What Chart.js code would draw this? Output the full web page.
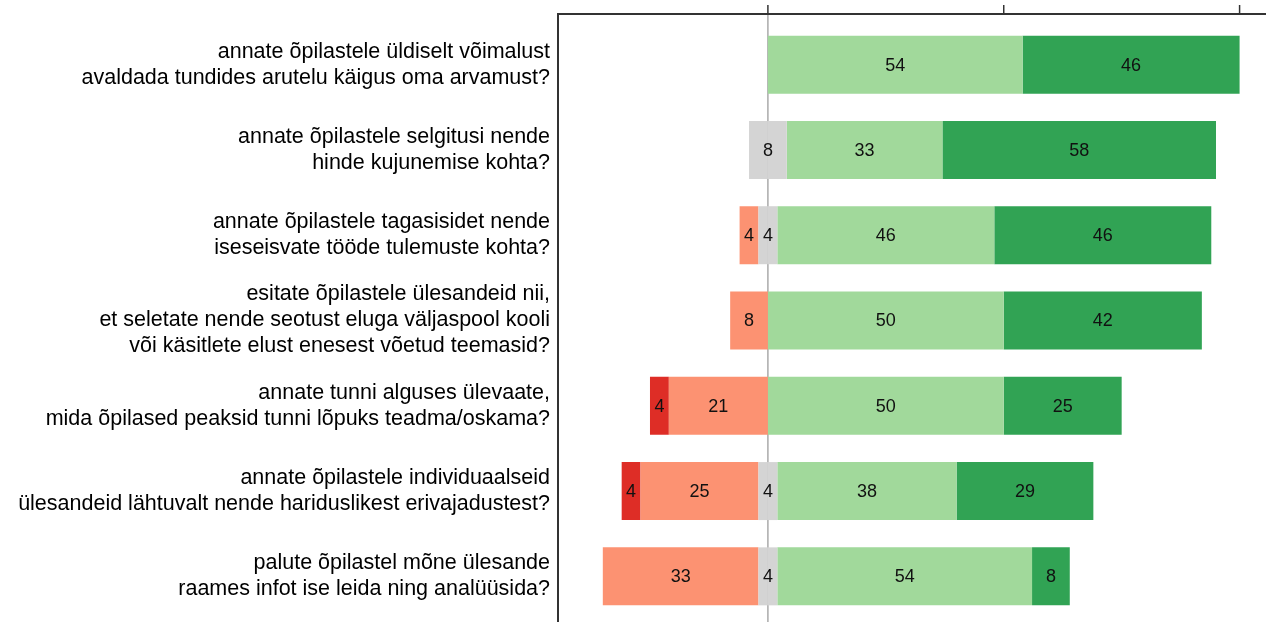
<!DOCTYPE html>
<html>
<head>
<meta charset="utf-8">
<script src="https://cdn.jsdelivr.net/npm/chart.js@4/dist/chart.umd.min.js"></script>
<style>
    html, body { margin: 0; padding: 0; background: #fff; }
    #wrap { width: 1266px; height: 622px; position: relative; }
</style>
</head>
<body>
<div id="wrap"><canvas id="likertChart"></canvas></div>
<script>
// Survey items (multi-line labels)
const questions = [
    ["annate õpilastele üldiselt võimalust", "avaldada tundides arutelu käigus oma arvamust?"],
    ["annate õpilastele selgitusi nende", "hinde kujunemise kohta?"],
    ["annate õpilastele tagasisidet nende", "iseseisvate tööde tulemuste kohta?"],
    ["esitate õpilastele ülesandeid nii,", "et seletate nende seotust eluga väljaspool kooli", "või käsitlete elust enesest võetud teemasid?"],
    ["annate tunni alguses ülevaate,", "mida õpilased peaksid tunni lõpuks teadma/oskama?"],
    ["annate õpilastele individuaalseid", "ülesandeid lähtuvalt nende hariduslikest erivajadustest?"],
    ["palute õpilastel mõne ülesande", "raames infot ise leida ning analüüsida?"]
];

// Percentages per answer level
const stronglyDisagree = [0, 0, 0, 0, 4, 4, 0];
const disagree = [0, 0, 4, 8, 21, 25, 33];
const neutral = [0, 8, 4, 0, 0, 4, 4];
const agree = [54, 33, 46, 50, 50, 38, 54];
const stronglyAgree = [46, 58, 46, 42, 25, 29, 8];

// Top axis ticks
const tickValues = [0, 50, 100];

const colors = {
    stronglyDisagree: "#de2d26",
    disagree: "#fc9272",
    neutral: "#d4d4d4",
    agree: "#a1d99b",
    stronglyAgree: "#31a354"
};

// datasets: neutral split in half around zero, negatives stacked outward
const datasets = [
    { key: "neutralL", values: neutral.map(v => -v / 2), color: colors.neutral, text: null },
    { key: "disagree", values: disagree.map(v => -v), color: colors.disagree, text: disagree },
    { key: "stronglyDisagree", values: stronglyDisagree.map(v => -v), color: colors.stronglyDisagree, text: stronglyDisagree },
    { key: "neutralR", values: neutral.map(v => v / 2), color: colors.neutral, text: null },
    { key: "agree", values: agree, color: colors.agree, text: agree },
    { key: "stronglyAgree", values: stronglyAgree, color: colors.stronglyAgree, text: stronglyAgree }
].map(d => ({
    label: d.key,
    data: d.values,
    backgroundColor: d.color,
    borderWidth: 0,
    stack: "s",
    categoryPercentage: 1,
    barPercentage: 0.68,
    valueText: d.text
}));

// Frame, zero line, ticks and value labels
const decorPlugin = {
    id: "decor",
    beforeDatasetsDraw(chart) {
        const { ctx, chartArea, scales } = chart;
        const x0 = scales.x.getPixelForValue(0);
        ctx.save();
        ctx.strokeStyle = "#aaaaaa";
        ctx.lineWidth = 1.5;
        ctx.beginPath();
        ctx.moveTo(x0, chartArea.top - 8);
        ctx.lineTo(x0, chart.height);
        ctx.stroke();
        ctx.restore();
    },
    afterDatasetsDraw(chart) {
        const { ctx, chartArea, scales } = chart;
        const frameY = chartArea.top - 8;
        ctx.save();
        ctx.strokeStyle = "#333";
        ctx.lineWidth = 2;
        ctx.beginPath();
        ctx.moveTo(chartArea.left, chart.height);
        ctx.lineTo(chartArea.left, frameY);
        ctx.lineTo(chartArea.right, frameY);
        ctx.stroke();
        ctx.lineWidth = 1.5;
        tickValues.forEach(v => {
            const x = scales.x.getPixelForValue(v);
            ctx.beginPath();
            ctx.moveTo(x, frameY);
            ctx.lineTo(x, frameY - 9);
            ctx.stroke();
        });

        ctx.fillStyle = "#111";
        ctx.font = "18px 'Liberation Sans', Arial, sans-serif";
        ctx.textAlign = "center";
        ctx.textBaseline = "middle";
        chart.data.datasets.forEach((ds, di) => {
            if (!ds.valueText) return;
            const meta = chart.getDatasetMeta(di);
            meta.data.forEach((bar, i) => {
                const v = ds.valueText[i];
                if (!v) return;
                ctx.fillText(String(v), (bar.x + bar.base) / 2, bar.y + 1);
            });
        });
        // neutral label centred on zero
        const metaN = chart.getDatasetMeta(0);
        metaN.data.forEach((bar, i) => {
            if (!neutral[i]) return;
            ctx.fillText(String(neutral[i]), scales.x.getPixelForValue(0), bar.y + 1);
        });
        ctx.restore();
    }
};

new Chart(document.getElementById("likertChart"), {
    type: "bar",
    data: { labels: questions, datasets: datasets },
    options: {
        indexAxis: "y",
        responsive: true,
        maintainAspectRatio: false,
        animation: false,
        layout: { padding: { top: 22, bottom: 3, right: 0, left: 0 } },
        plugins: {
            legend: { display: false },
            tooltip: { enabled: false }
        },
        scales: {
            x: {
                display: false,
                stacked: true,
                min: -44.5,
                max: 105.6
            },
            y: {
                stacked: true,
                grid: { display: false, drawTicks: false },
                border: { display: false },
                afterFit: (scale) => {
                    scale.width = 558;
                    scale.paddingTop = 0;
                    scale.paddingBottom = 0;
                },
                ticks: {
                    padding: 8,
                    color: "#000",
                    font: { family: "'Liberation Sans', Arial, sans-serif", size: 21.5, lineHeight: "26px" }
                }
            }
        }
    },
    plugins: [decorPlugin]
});
</script>
</body>
</html>
